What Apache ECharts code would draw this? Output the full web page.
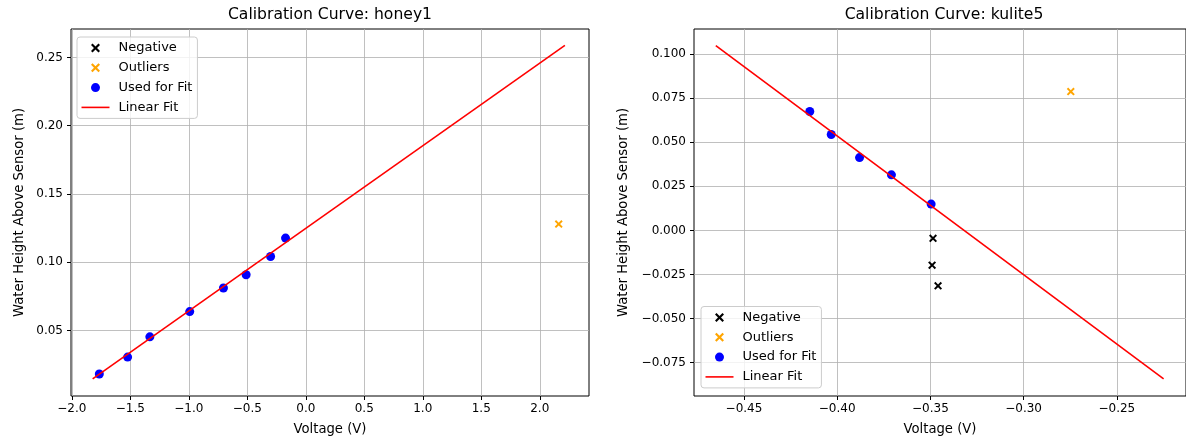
<!DOCTYPE html>
<html><head><meta charset="utf-8">
<script src="https://cdn.jsdelivr.net/npm/echarts@6/dist/echarts.min.js"></script>
<style>html,body{margin:0;padding:0;background:#fff}#c{width:1186px;height:442px}</style>
</head><body><div id="c"></div>
<script>
// ---- titles / labels ----
const leftTitle = 'Calibration Curve: honey1';
const rightTitle = 'Calibration Curve: kulite5';
const xName = 'Voltage (V)';
const yName = 'Water Height Above Sensor (m)';
const legendNames = ['Negative', 'Outliers', 'Used for Fit', 'Linear Fit'];

// ---- left panel (honey1) ----
const leftUsedX = [-1.765, -1.523, -1.333, -0.992, -0.704, -0.510, -0.301, -0.173];
const leftUsedY = [0.0182, 0.0306, 0.0454, 0.0639, 0.0812, 0.0909, 0.1042, 0.1177];
const leftNegX = [];
const leftNegY = [];
const leftOutX = [2.162];
const leftOutY = [0.1280];
const leftFitX = [-1.822, 2.215];
const leftFitY = [0.0147, 0.2588];
const leftXTicks = [-2.0, -1.5, -1.0, -0.5, 0.0, 0.5, 1.0, 1.5, 2.0];
const leftYTicks = [0.05, 0.10, 0.15, 0.20, 0.25];
const leftXRange = [-2.007, 2.421];
const leftYRange = [0.0021, 0.2708];

// ---- right panel (kulite5) ----
const rightUsedX = [-0.4147, -0.4032, -0.3880, -0.3709, -0.3496];
const rightUsedY = [0.0674, 0.0544, 0.0413, 0.0315, 0.0149];
const rightNegX = [-0.3486, -0.3491, -0.3459];
const rightNegY = [-0.0045, -0.0197, -0.0314];
const rightOutX = [-0.2747];
const rightOutY = [0.0787];
const rightFitX = [-0.4651, -0.2249];
const rightFitY = [0.1048, -0.0842];
const rightXTicks = [-0.45, -0.40, -0.35, -0.30, -0.25];
const rightYTicks = [-0.075, -0.050, -0.025, 0.000, 0.025, 0.050, 0.075, 0.100];
const rightXRange = [-0.4768, -0.2129];
const rightYRange = [-0.0939, 0.1142];

const FONT = 'DejaVu Sans';
const FS = 12;       // tick labels
const FS_LABEL = 13.2; // axis names
const FS_LEG = 13;   // legend
const FS_TITLE = 15.6;
const XMARK = 'path://M1.7,0 L5,3.3 L8.3,0 L10,1.7 L6.7,5 L10,8.3 L8.3,10 L5,6.7 L1.7,10 L0,8.3 L3.3,5 L0,1.7 Z';
const LINEICON = 'path://M0,0 H28 V1.6 H0 Z';

function pairs(xs, ys) { return xs.map((x, i) => [x, ys[i]]); }
function fmt(dec) {
  return function (v) {
    const s = Math.abs(v).toFixed(dec);
    return (v < 0 && Math.abs(v) > 1e-12 ? '\u2212' : '') + s;
  };
}

function xAxis(gi, range, ticks, dec) {
  return {
    type: 'value', gridIndex: gi, min: range[0], max: range[1],
    name: xName, nameLocation: 'middle', nameGap: 27,
    nameTextStyle: { fontFamily: FONT, fontSize: FS_LABEL, color: '#000' },
    axisLine: { show: false, onZero: false },
    axisTick: { show: true, length: 4, customValues: ticks, lineStyle: { color: '#000', width: 1 } },
    axisLabel: { customValues: ticks, formatter: fmt(dec), margin: 7, fontFamily: FONT, fontSize: FS, color: '#000' },
    splitLine: { show: true, lineStyle: { color: '#b0b0b0', width: 0.8 } }
  };
}
function yAxis(gi, range, ticks, dec, gap) {
  return {
    type: 'value', gridIndex: gi, min: range[0], max: range[1],
    name: yName, nameLocation: 'middle', nameGap: gap, nameRotate: 90,
    nameTextStyle: { fontFamily: FONT, fontSize: FS_LABEL, color: '#000' },
    axisLine: { show: false, onZero: false },
    axisTick: { show: true, length: 4, customValues: ticks, lineStyle: { color: '#000', width: 1 } },
    axisLabel: { customValues: ticks, formatter: fmt(dec), margin: 8, fontFamily: FONT, fontSize: FS, color: '#000' },
    splitLine: { show: true, lineStyle: { color: '#b0b0b0', width: 0.8 } }
  };
}
function seriesFor(gi, neg, out, used, fit) {
  return [
    { name: 'Negative', type: 'scatter', xAxisIndex: gi, yAxisIndex: gi, data: neg,
      symbol: XMARK, symbolSize: 8, itemStyle: { color: '#000000', opacity: 1 }, z: 3 },
    { name: 'Outliers', type: 'scatter', xAxisIndex: gi, yAxisIndex: gi, data: out,
      symbol: XMARK, symbolSize: 8, itemStyle: { color: '#ffa500', opacity: 1 }, z: 3 },
    { name: 'Used for Fit', type: 'scatter', xAxisIndex: gi, yAxisIndex: gi, data: used,
      symbol: 'circle', symbolSize: 9, itemStyle: { color: '#0000ff', opacity: 1 }, z: 3 },
    { name: 'Linear Fit', type: 'line', xAxisIndex: gi, yAxisIndex: gi, data: fit,
      symbol: 'none', showSymbol: false, lineStyle: { color: '#ff0000', width: 1.6 },
      itemStyle: { color: '#ff0000' }, z: 4 }
  ];
}
function legend(pos) {
  return Object.assign({
    orient: 'vertical',
    data: [
      { name: legendNames[0] },
      { name: legendNames[1] },
      { name: legendNames[2] },
      { name: legendNames[3], icon: LINEICON }
    ],
    selectedMode: false,
    itemWidth: 28, itemHeight: 9, itemGap: 6.8,
    padding: [4.5, 5, 4.5, 4.5],
    backgroundColor: 'rgba(255,255,255,0.8)', borderColor: '#cccccc', borderWidth: 1, borderRadius: 3,
    textStyle: { fontFamily: FONT, fontSize: FS_LEG, lineHeight: 13, color: '#000', padding: [0, 0, 0, 4] }
  }, pos);
}

const chart = echarts.init(document.getElementById('c'), null, { renderer: 'canvas' });
chart.setOption({
  animation: false,
  backgroundColor: '#ffffff',
  graphic: [
    { type: 'text', x: 330, y: 15, style: { text: leftTitle, fontFamily: FONT, fontSize: FS_TITLE, fill: '#000', align: 'center', verticalAlign: 'middle' } },
    { type: 'text', x: 944, y: 15, style: { text: rightTitle, fontFamily: FONT, fontSize: FS_TITLE, fill: '#000', align: 'center', verticalAlign: 'middle' } }
  ],
  grid: [
    { left: 71, top: 29, width: 518, height: 367, show: true, borderColor: '#000', borderWidth: 1, backgroundColor: '#fff' },
    { left: 694, top: 29, width: 500, height: 367, show: true, borderColor: '#000', borderWidth: 1, backgroundColor: '#fff' }
  ],
  xAxis: [xAxis(0, leftXRange, leftXTicks, 1), xAxis(1, rightXRange, rightXTicks, 2)],
  yAxis: [yAxis(0, leftYRange, leftYTicks, 2, 45), yAxis(1, rightYRange, rightYTicks, 3, 64)],
  legend: [
    legend({ left: 77, top: 37 }),
    legend({ left: 701, top: 306.5 })
  ],
  series: [].concat(
    seriesFor(0, pairs(leftNegX, leftNegY), pairs(leftOutX, leftOutY), pairs(leftUsedX, leftUsedY), pairs(leftFitX, leftFitY)),
    seriesFor(1, pairs(rightNegX, rightNegY), pairs(rightOutX, rightOutY), pairs(rightUsedX, rightUsedY), pairs(rightFitX, rightFitY))
  )
});
</script>
</body></html>
